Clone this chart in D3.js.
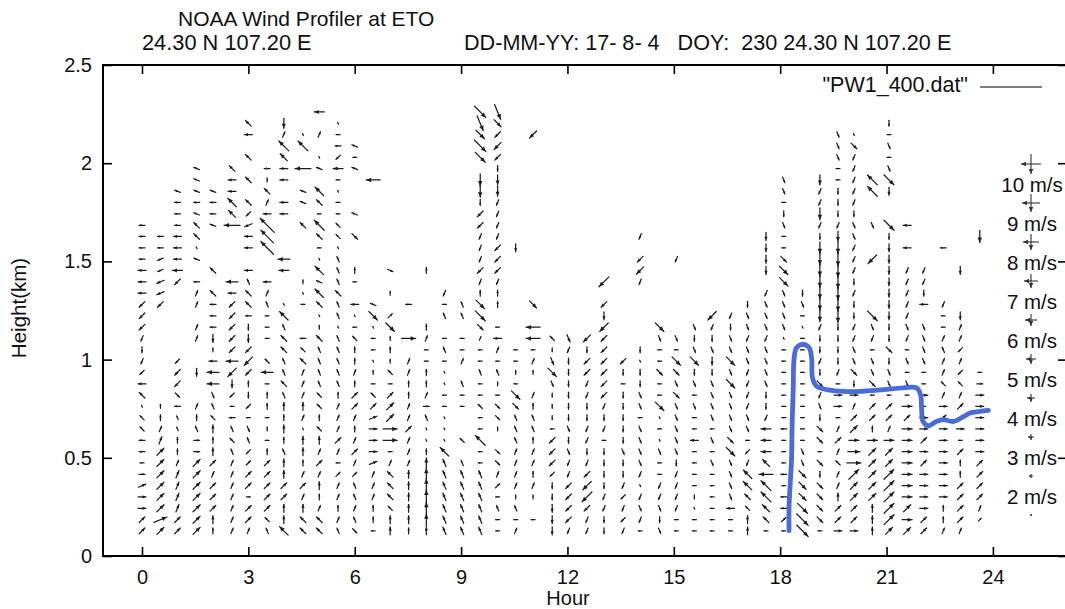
<!DOCTYPE html>
<html><head><meta charset="utf-8">
<script src="https://cdn.jsdelivr.net/npm/d3@7/dist/d3.min.js"></script>
<style>
html,body{margin:0;padding:0;background:#fff;}
svg{display:block;font-family:"Liberation Sans",Arial,Helvetica,sans-serif;}
text{white-space:pre;}
</style></head><body>
<svg id="chart" width="1065" height="609"></svg>
<script>
// ---------- data ----------
const hourTicks = [0, 3, 6, 9, 12, 15, 18, 21, 24];
const heightTicks = [0, 0.5, 1, 1.5, 2, 2.5];
const heightTickLabels = ["0", "0.5", "1", "1.5", "2", "2.5"];

// profile times (hours) of each column of wind vectors
const hours = [0.0, 0.52, 1.0, 1.54, 2.0, 2.54, 3.0, 3.53, 4.0, 4.54, 5.0, 5.53,
  6.0, 6.52, 7.0, 7.52, 8.02, 8.53, 9.03, 9.54, 10.03, 10.54, 11.03, 11.57,
  12.03, 12.55, 13.03, 13.57, 14.05, 14.6, 15.07, 15.58, 16.08, 16.6, 17.08, 17.6,
  18.1, 18.63, 19.12, 19.63, 20.08, 20.6, 21.07, 21.58, 22.05, 22.6, 23.08, 23.63];

// range gate heights (km)
const heights = [0.128, 0.185, 0.243, 0.301, 0.358, 0.416, 0.474, 0.531, 0.589, 0.647,
  0.704, 0.762, 0.819, 0.877, 0.935, 0.992, 1.050, 1.108, 1.165, 1.223,
  1.281, 1.338, 1.396, 1.454, 1.511, 1.569, 1.627, 1.684, 1.742, 1.800,
  1.857, 1.915, 1.973, 2.030, 2.088, 2.146, 2.203, 2.261];

// one string per column, one token per gate from the bottom:
// letter = direction the arrow points (a=N, b=NNE, c=NE ... p=NNW), number = speed (m/s), "." = no data
const windCols = [
  "c4 c4 e4 e4 d4 e3 m2 m3 m3 o3 o3 p1 o4 m4 k3 j3 i3 j3 k4 k4 k4 m4 m4 m4 m3 m3 m3 m3",
  "c5 d7 c5 c5 c5 c5 c5 c5 b4 b3 a3 a2 . . . . . . . . k4 l4 l4 l3 l3 m3 m3",
  "c4 c4 b4 b4 b4 b4 b3 a3 a3 p2 p2 m3 g3 k4 k4 k3 . . . . . . k4 m5 m4 m4 m4 m3 m3 m3 n3",
  "c5 c5 c5 c5 c5 c5 c5 e3 e3 p3 a3 b3 . . i4 . . b3 b3 . b3 b3 m3 . n3 p1 o4 o4 n3 m3 n3 n3 n3",
  "a3 a4 c4 c4 c4 b3 c4 a4 a3 a4 o3 p3 h3 m6 m6 m4 a2 i4 m3 m3 m3 o4 . o4 . . . n3 m3 m3 n3",
  "b3 b3 b3 b3 b3 b3 b3 p3 o3 p3 m3 m2 k3 i4 k6 m6 k4 k4 k4 k4 k4 m4 m6 . . . . m8 o5 o6 m4 m4 o4",
  "b3 c4 c4 e2 c4 c4 c3 k3 p3 h3 m2 k3 i3 a3 k4 k6 k4 i4 i3 m3 o4 o4 p3 m4 . m4 m4 l4 k3 o4 . o4 . o4 . m4 o4",
  "p3 o3 c4 c4 c4 c4 c4 a3 m2 a2 m2 a3 a3 m2 m6 o3 . m2 m2 m2 p3 b3 m4 . . o9 o9 o10 m4 b3 o4 a2 m3",
  "o6 a4 a4 c4 c4 a4 a4 p3 a3 a4 a3 a4 p3 o4 p3 p3 o4 o4 p3 o6 p1 . . m5 m6 . . . m4 m4 . m4 m4 o5 o7 b3 i5",
  "o4 o4 a4 b3 c4 b3 a3 a4 a4 p1 b3 a4 b3 b3 b3 o4 o3 m3 . . m2 p1 a2 . . . . o4 . n3 n3 . m8 . o7 p1",
  "o4 o4 b3 a3 a4 b3 c4 b3 a4 o3 a3 o3 o3 p3 p3 p3 p3 o4 a2 p1 o4 o6 n3 o6 p1 m2 o4 o7 m2 o4 o6 . n3 p1 . b3 . m5",
  "p3 b3 a3 b3 b3 c3 m2 b3 c4 b3 b3 b3 a3 p3 p3 p3 p3 p3 p1 p3 p3 o4 p3 p3 p3 p1 o3 o3 m2 m2 p1 m2 m5 k3 m3 m2 p1",
  "g3 p3 b3 p3 p3 c3 b3 c4 b3 a3 b3 c4 c4 a3 b3 a3 a3 o3 m2 p1 m4 . m2 a3 . . g4 . n3 . . . n3 m2 n3",
  "m2 a3 a3 b3 b3 b3 d4 e4 e4 e4 d4 c4 o3 m2 a2 p1 m2 m2 p1 g6 n3 . . . . . . . . . . m7",
  "a4 a4 o3 o4 o4 o4 b3 m2 e7 e7 c5 c5 c4 e2 o3 a2 a3 a2 g6 c3 . a2 . f3",
  "a3 a4 a4 a4 a4 a4 b3 b3 b3 c4 b3 b3 a3 a3 b3 b3 . e7 . . m3",
  "a4 a6 a6 a7 a7 a6 a5 a3 p1 p1 p3 e3 b3 a3 a3 m2 m2 b3 a3 . . . . a3",
  "p4 p4 p4 p4 p4 p4 p4 o6 p1 p1 p1 m2 m2 p1 p1 m2 p3 m2 . p3 m2 j3",
  "p4 p4 p4 p4 p4 p4 p3 . o3 . . m2 m2 p3 . b3 m2 m2 . p3 p3",
  "p4 p4 p4 p4 p4 p4 m2 m2 o7 m2 m2 o3 m2 m2 p3 m2 m2 b2 g4 g7 g6 a3 j3 k4 j3 j3 j3 k4 k4 i3 i6 i6 . g7 g8 g6 h8 g8",
  "m2 m2 p3 m2 c3 b3 g3 g3 . a2 g3 g3 m2 a2 p3 m2 b3 m4 m2 . a3 a3 j3 k4 k4 k4 j3 j3 j3 j3 i5 i5 i3 k4 k5 k4 g5 h8",
  "b3 m2 p3 a2 b3 b3 b3 b3 p3 p3 p3 g4 g6 m2 a2 m2 m2 . . . . . . . . i4",
  ". m2 . a2 b3 a3 b3 b3 a3 p3 p3 a3 b3 . a2 b3 m2 m7 m7 . g5 . . . . . . . . . . . . . . k5",
  "i4 i4 i4 i3 i3 k3 k4 k4 k4 m2 i2 i2 i2 h3 g6 h4 i2 o3",
  "j3 k4 k4 k4 k4 j3 j3 h3 i3 h3 i3 i3 i3 i3 i3 i3 j3 h4",
  "j3 j3 k4 k7 k6 k4 j3 i3 j3 j3 i3 i3 j3 j3 k4 k4 i3 k5",
  "i3 i3 j3 j3 i3 i3 i3 i3 m2 j3 i3 j3 k4 k4 k4 k4 k4 k4 k6 i4 k4 . k7",
  "j3 k3 j3 k3 j3 i3 i3 h3 i3 i3 i3 i3 i3 m2 i3 k4",
  "m2 j3 h3 j3 p1 j3 h3 h3 h3 h3 m2 h3 h3 i3 i3 p1 i3 . . . . . j3 k5 k4 . j3",
  "h3 i3 h3 j3 j3 m2 m2 h3 p1 m2 p1 g6 m2 m2 g4 m2 m2 h3 g6",
  "m2 m2 j3 j3 j3 j3 i3 h3 h3 h3 h3 h3 g4 h3 g4 g6 m2 h3 . . . . . . j3",
  "m2 m2 p1 i2 m2 m2 m2 m2 m4 m2 m2 h3 m2 h3 i3 g6 h3 i3 h3",
  "m2 m2 m2 m2 m2 m2 h3 m2 h3 m2 h3 h3 h3 h3 i3 i4 h3 i3 j3 k6",
  "m2 m2 m4 h3 h3 h3 h3 g6 g4 h3 h3 h3 h3 g6 h3 g6 h3 h3 i3 j3",
  "a4 a4 o3 o4 o6 o6 j3 k3 m2 h3 h3 j3 j3 j3 j3 h3 h3 j3 h3 h3 i3",
  "m2 o4 o5 o7 o7 m7 o5 m5 m5 m5 j3 i3 i3 h3 h3 h3 h3 j3 h3 h3 h3 j3 . i4 i4 i4 i4",
  "m2 c3 m3 m3 m2 m3 m2 m2 m2 m3 m2 m2 m2 m2 m2 m2 m2 p1 h3 h3 h3 h3 g6 g6 g4 m2 m2 h3 i3 m2 h3 h3",
  "g8 g8 g7 g5 g5 g5 h3 h3 m2 m2 m2 m2 m2 m2 m2 m2 m2 m2 p1 m2 h3 i3",
  "m2 g4 g4 g4 g4 i3 g4 m2 g4 g4 i3 h3 j3 g4 i3 j3 i3 i3 j3 i6 i6 i6 i6 i6 i6 i6 i3 j3 i6 j3 j3 i5",
  "e4 c4 c4 a4 b3 b3 o3 b3 c4 b3 m2 e4 e4 m2 j3 i3 i3 i3 i3 i7 i7 i7 i7 i7 i7 i6 i5 j3 i3 i3 i3 m2 m2 h3 h3 h3",
  "e4 c4 c4 c5 c5 c7 e7 e6 e5 c5 c4 b3 e4 i3 g4 h3 h3 j3 j3 i3 i3 j3 i3 j3 j3 j3 h3 h3 i3 j3 j3 j3 j3 j3 g4 p1",
  "a4 a4 a4 c5 c5 c5 c5 c5 e5 a3 c4 c4 m2 g4 h3 h3 m2 j3 h3 g7 . . . . k6 . . h3 . . o7 o7",
  "c5 c7 c7 c7 c7 c7 c5 c5 e5 b3 c4 c4 m2 h3 h3 i3 g4 i3 i3 i4 i4 i4 i4 i4 i4 i4 i3 g7 . . i4 g7 h3 m2 h3 m2 i3",
  "c5 e5 c5 e5 e5 e5 e5 e5 e5 e5 c4 e5 m2 h3 m2 h3 m2 j3 h3 j3 j3 j3 j3 j3 . m4 . m4",
  "c4 c4 e4 e4 e4 e4 c4 e4 c4 e4 e4 m2 e4 m2 m2 h3 h3 h3 h3 . m4 i3 j3 j3",
  "b3 a3 a3 e4 e4 e4 e4 e4 e4 e4 c4 e4 b3 o3 b3 b3 p3 b3 m2 m2 j3 . . . . m3",
  "b3 c4 c4 c4 c4 a3 a3 c4 m2 e4 c4 c4 b3 o3 k3 b3 k3 b3 b3 i4 . . . i4",
  ". c2 b3 c4 c4 c4 c4 e4 e4 e4 e4 e4 e4 e3 m2 . . . . . . . . . . . i6"
];

// "PW1_400.dat" line
const lineHours = [18.25, 18.25, 18.29, 18.32, 18.34, 18.37, 18.39, 18.46, 18.65, 18.82, 18.89, 18.91,
  19.03, 19.31, 19.78, 20.25, 20.91, 21.47, 21.85, 21.96, 21.99, 22.03, 22.17, 22.41, 22.60,
  22.88, 23.16, 23.35, 23.63, 23.87];
const lineHeights = [0.129, 0.252, 0.388, 0.490, 0.694, 0.864, 1.000, 1.060, 1.077, 1.060, 1.000, 0.908,
  0.864, 0.847, 0.838, 0.838, 0.847, 0.856, 0.856, 0.821, 0.745, 0.685, 0.663, 0.685, 0.694,
  0.685, 0.708, 0.728, 0.736, 0.741];

// reference speed key
const keySpeeds = [10, 9, 8, 7, 6, 5, 4, 3, 2, 1];
const keyLabels = ["10 m/s", "9 m/s", "8 m/s", "7 m/s", "6 m/s", "5 m/s", "4 m/s", "3 m/s", "2 m/s", ""];

// ---------- drawing ----------
const svg = d3.select("#chart");
const pL = 103, pR = 1067, pT = 65, pB = 556;
const x = d3.scaleLinear().domain([-1.1, 26.09]).range([pL, pR]);
const y = d3.scaleLinear().domain([0, 2.5]).range([pB, pT]);
const spd = d3.scaleLinear().domain([0, 10]).range([0, 20]); // m/s -> px
const dirAngle = {a:90,b:67.5,c:45,d:22.5,e:0,f:-22.5,g:-45,h:-67.5,i:-90,j:-112.5,k:-135,l:-157.5,m:180,n:157.5,o:135,p:112.5};

const vectors = [];
windCols.forEach((col, c) => {
  col.trim().split(/\s+/).forEach((tok, k) => {
    if (tok === "." || !dirAngle.hasOwnProperty(tok[0])) return;
    const s = +tok.slice(1);
    const a = dirAngle[tok[0]] * Math.PI / 180;
    vectors.push({hour: hours[c], h: heights[k], u: s * Math.cos(a), v: s * Math.sin(a)});
  });
});

function arrowGeom(cx, cy, dx, dy) {
  const len = Math.hypot(dx, dy);
  const x1 = cx - dx / 2, y1 = cy - dy / 2, x2 = cx + dx / 2, y2 = cy + dy / 2;
  let head = null;
  if (len > 1.5) {
    const hl = Math.min(5, len * 0.45), hw = hl * 0.45;
    const ux = dx / len, uy = dy / len;
    const bx = x2 - ux * hl, by = y2 - uy * hl;
    head = [[x2, y2], [bx - uy * hw, by + ux * hw], [bx + uy * hw, by - ux * hw]];
  }
  return {x1, y1, x2, y2, head};
}

const arrows = vectors.map(d => arrowGeom(x(d.hour), y(d.h), spd(d.u), -spd(d.v)));
const gv = svg.append("g").attr("class", "vectors");
gv.selectAll("line").data(arrows).join("line")
  .attr("x1", d => d.x1).attr("y1", d => d.y1).attr("x2", d => d.x2).attr("y2", d => d.y2)
  .attr("stroke", "#1e1e1e").attr("stroke-width", 1.25).attr("stroke-linecap", "round");
gv.selectAll("path").data(arrows.filter(d => d.head)).join("path")
  .attr("d", d => "M" + d.head.map(p => p[0].toFixed(2) + "," + p[1].toFixed(2)).join("L") + "Z")
  .attr("fill", "#1e1e1e");

// speed key
const keyX = 1031;
const keyY = i => 164 + 39 * i;
const keyArrows = [];
keySpeeds.forEach((s, i) => {
  keyArrows.push(arrowGeom(keyX, keyY(i), -spd(s), 0));
  keyArrows.push(arrowGeom(keyX, keyY(i), 0, spd(s)));
});
const gk = svg.append("g");
gk.selectAll("line").data(keyArrows).join("line")
  .attr("x1", d => d.x1).attr("y1", d => d.y1).attr("x2", d => d.x2).attr("y2", d => d.y2)
  .attr("stroke", "#333").attr("stroke-width", 1.1);
gk.selectAll("path").data(keyArrows.filter(d => d.head)).join("path")
  .attr("d", d => "M" + d.head.map(p => p.join(",")).join("L") + "Z").attr("fill", "#333");
gk.selectAll("text").data(keyLabels).join("text")
  .attr("x", 1032).attr("y", (d, i) => keyY(i) + 28)
  .attr("text-anchor", "middle").attr("font-size", 20.5).attr("fill", "#111").text(d => d);

// blue line
svg.append("path")
  .datum(lineHours.map((h, i) => [h, lineHeights[i]]))
  .attr("fill", "none").attr("stroke", "#4a6cd8").attr("stroke-width", 4.8)
  .attr("stroke-linejoin", "round").attr("stroke-linecap", "round")
  .attr("d", d3.line().x(d => x(d[0])).y(d => y(d[1])).curve(d3.curveCatmullRom.alpha(0.5)));

// axes (inward ticks)
const axB = svg.append("g").attr("transform", `translate(0,${pB})`)
  .call(d3.axisBottom(x).tickValues(hourTicks).tickSize(-9).tickSizeOuter(0).tickPadding(14).tickFormat(d3.format("d")));
const axT = svg.append("g").attr("transform", `translate(0,${pT})`)
  .call(d3.axisTop(x).tickValues(hourTicks).tickSize(-9).tickSizeOuter(0).tickFormat(""));
const axL = svg.append("g").attr("transform", `translate(${pL},0)`)
  .call(d3.axisLeft(y).tickValues(heightTicks).tickSize(-9).tickSizeOuter(0).tickPadding(11)
    .tickFormat((d, i) => heightTickLabels[i]));
const axR = svg.append("g").attr("transform", `translate(${pR},0)`)
  .call(d3.axisRight(y).tickValues(heightTicks).tickSize(-9).tickSizeOuter(0).tickFormat(""));
[axB, axT, axL, axR].forEach(g => {
  g.select(".domain").remove();
  g.selectAll(".tick line").attr("stroke", "#000").attr("stroke-width", 1.6);
  g.selectAll("text").attr("font-size", 20).attr("fill", "#111").attr("font-family", null);
});
svg.append("rect").attr("x", pL).attr("y", pT).attr("width", pR - pL).attr("height", pB - pT)
  .attr("fill", "none").attr("stroke", "#000").attr("stroke-width", 2);

// texts
svg.append("text").attr("x", 178).attr("y", 26).attr("font-size", 21).attr("fill", "#111")
  .text("NOAA Wind Profiler at ETO");
svg.append("text").attr("x", 142).attr("y", 50).attr("font-size", 21.8).attr("fill", "#111")
  .text("24.30 N 107.20 E");
svg.append("text").attr("x", 464).attr("y", 50).attr("font-size", 21.6).attr("fill", "#111")
  .text("DD-MM-YY: 17- 8- 4   DOY:  230 24.30 N 107.20 E");
svg.append("text").attr("transform", "translate(26,308) rotate(-90)").attr("text-anchor", "middle")
  .attr("font-size", 20.5).attr("fill", "#111").text("Height(km)");
svg.append("text").attr("x", 568).attr("y", 605).attr("text-anchor", "middle")
  .attr("font-size", 20).attr("fill", "#111").text("Hour");
// legend
svg.append("text").attr("x", 968).attr("y", 92).attr("text-anchor", "end")
  .attr("font-size", 21.5).attr("fill", "#111").text('"PW1_400.dat"');
svg.append("line").attr("x1", 980).attr("x2", 1042).attr("y1", 87).attr("y2", 87)
  .attr("stroke", "#000").attr("stroke-width", 1.2);
</script>
</body></html>
